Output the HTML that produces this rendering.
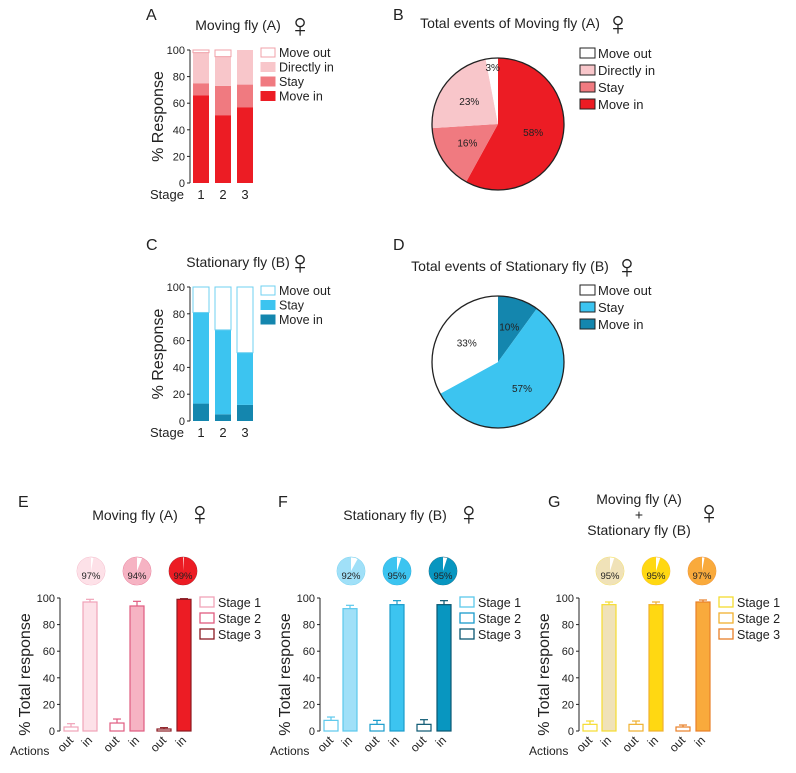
<!DOCTYPE html>
<html><head><meta charset="utf-8"><style>
body{margin:0;background:#fff;width:796px;height:768px;overflow:hidden}
svg text{font-family:"Liberation Sans",sans-serif;fill:#222}
</style></head><body>
<svg id="fig" width="796" height="768" viewBox="0 0 796 768" xmlns="http://www.w3.org/2000/svg"></svg>
<script>
// Panel A data
const stagesAB=["1","2","3"];
const aMoveIn=[66,51,57];
const aStay=[9,22,17];
const aDirectIn=[23,22,26];
const aMoveOut=[2,5,0];
// Panel C data
const cMoveIn=[13,5,12];
const cStay=[68,63,39];
const cMoveOut=[19,32,49];
// Panel B / D pies
const bLabels=["Move in","Stay","Directly in","Move out"];
const bValues=[58,16,23,3];
const dLabels=["Move in","Stay","Move out"];
const dValues=[10,57,33];
// Panels E/F/G
const yTicks=[0,20,40,60,80,100];
const eOut=[3,6,1.5], eOutErr=[2.5,3,1];
const eIn=[97,94,99], eInErr=[2,3.5,0.5];
const fOut=[8,5,5], fOutErr=[2.5,3,3.5];
const fIn=[92,95,95], fInErr=[2.5,3,3];
const gOut=[5,5,3], gOutErr=[2.5,2.5,1.5];
const gIn=[95,95,97], gInErr=[2,2,1.5];
const ePie=[97,94,99], fPie=[92,95,95], gPie=[95,95,97];

const NS="http://www.w3.org/2000/svg";
const svg=document.getElementById('fig');
function mk(tag,attrs,parent){const e=document.createElementNS(NS,tag);for(const k in attrs)e.setAttribute(k,attrs[k]);(parent||svg).appendChild(e);return e;}
function txt(x,y,s,size,anchor,parent,extra){const t=mk('text',Object.assign({x:x,y:y,'font-size':size,'text-anchor':anchor||'start'},extra||{}),parent);t.textContent=s;return t;}
function fem(x,y,parent){const t=txt(x,y+5,'\u2640',34,'middle',parent,{'font-family':'DejaVu Sans'});return t;}
function grp(name){const g=mk('g',{});return g;}

// panel letters
[["A",146,20],["B",393,20],["C",146,250],["D",393,250],["E",18,507],["F",278,507],["G",548,507]].forEach(p=>{
 const t=txt(p[1],p[2],p[0],16,'start');
 
 
});

function stackPanel(name,title,y0,y100,series,colors,strokes,legendNames,legendY){
 const g=grp(name);
 const ax=190;
 const ys=v=>y0-(y0-y100)*v/100;
 const t=txt(238,y100-20,title,14,'middle',g);
 
 
 fem(300,y100-18,g);
 mk('line',{x1:ax,y1:y100,x2:ax,y2:y0,stroke:'#222','stroke-width':1},g);
 yTicks.forEach(v=>{mk('line',{x1:ax-3,y1:ys(v),x2:ax,y2:ys(v),stroke:'#222'},g);txt(ax-5,ys(v)+4,String(v),11,'end',g);});
 const yt=txt(0,0,'% Response',16,'middle',g,{transform:`translate(163,${(y0+y100)/2}) rotate(-90)`});
 
 
 const bx=[193,215,237];
 stagesAB.forEach((s,i)=>{
  let acc=0;
  series.forEach((arr,k)=>{
   const v=arr[i];
   const r=mk('rect',{x:bx[i],y:ys(acc+v),width:16,height:ys(acc)-ys(acc+v),fill:colors[k],stroke:strokes[k],'stroke-width':k===series.length-1?1:0},g);
   
   
   acc+=v;
  });
  txt(bx[i]+8,y0+16,s,13,'middle',g);
 });
 txt(184,y0+16,'Stage',13,'end',g);
 legendNames.forEach((n,k)=>{
  const ci=series.length-1-k;
  const ly=legendY+k*14.5;
  const r=mk('rect',{x:261,y:ly-9,width:14,height:9,fill:colors[ci],stroke:strokes[ci]==='none'?colors[ci]:strokes[ci]},g);
  
  
  txt(279,ly,n,12.5,'start',g);
 });
}
stackPanel('stacked-bar-moving-fly','Moving fly (A)',183,50,[aMoveIn,aStay,aDirectIn,aMoveOut],['#ec1c24','#f07a80','#f8c6ca','#ffffff'],['none','none','none','#f0a0a8'],['Move out','Directly in','Stay','Move in'],57);
stackPanel('stacked-bar-stationary-fly','Stationary fly (B)',421,287,[cMoveIn,cStay,cMoveOut],['#1486ae','#3cc4f0','#ffffff'],['none','none','#6fd0f0'],['Move out','Stay','Move in'],295);

function arcPath(cx,cy,r,a0,a1){
 const p=a=>[cx+r*Math.sin(a*2*Math.PI),cy-r*Math.cos(a*2*Math.PI)];
 const s=p(a0),e=p(a1);const large=(a1-a0)>0.5?1:0;
 return `M${cx},${cy} L${s[0]},${s[1]} A${r},${r} 0 ${large} 1 ${e[0]},${e[1]} Z`;
}
function bigPie(name,title,cx,cy,r,titleY,labels,values,colors,legendY,legendOrder){
 const g=grp(name);
 const t=txt(cx+12,titleY,title,14,'middle',g);
 
 
 fem(cx+t.getComputedTextLength()/2+30,titleY+2,g);
 let acc=0;const tot=values.reduce((a,b)=>a+b,0);
 values.forEach((v,i)=>{
  const a0=acc/tot,a1=(acc+v)/tot;
  const p=mk('path',{d:arcPath(cx,cy,r,a0,a1),fill:colors[i],stroke:'none'},g);
  
  
  const m=(a0+a1)/2*2*Math.PI;const lr=v<6?r*0.85:r*0.55;
  txt(cx+lr*Math.sin(m),cy-lr*Math.cos(m)+3,v+'%',10,'middle',g,{fill:'#333'});
  acc+=v;
 });
 mk('circle',{cx:cx,cy:cy,r:r,fill:'none',stroke:'#222','stroke-width':1.3},g);
 legendOrder.forEach((i,k)=>{
  const ly=legendY+k*17;
  const s=mk('rect',{x:580,y:ly-9,width:15,height:10,fill:colors[i],stroke:'#222'},g);
  
  
  txt(598,ly+1,labels[i],13,'start',g);
 });
}
bigPie('pie-moving-fly','Total events of Moving fly (A)',498,124,66,28,bLabels,bValues,['#ec1c24','#f07a80','#f8c6ca','#ffffff'],57,[3,2,1,0]);
bigPie('pie-stationary-fly','Total events of Stationary fly (B)',498,362,66,271,dLabels,dValues,['#1486ae','#3cc4f0','#ffffff'],294,[2,1,0]);

function totalPanel(name,ax,titleLines,outV,outE,inV,inE,pie,fills,strokes){
 const g=grp(name);
 const y0=731,y100=598;
 const ys=v=>y0-(y0-y100)*v/100;
 if(titleLines.length===1){const t=txt(ax+75,520,titleLines[0],14,'middle',g);fem(ax+75+t.getComputedTextLength()/2+22,520,g);}
 else{titleLines.forEach((l,i)=>txt(ax+60,504+i*15.5,l,14,'middle',g));fem(ax+130,519,g);}
 mk('line',{x1:ax,y1:y100,x2:ax,y2:y0,stroke:'#222'},g);
 yTicks.forEach(v=>{mk('line',{x1:ax-3,y1:ys(v),x2:ax,y2:ys(v),stroke:'#222'},g);txt(ax-5,ys(v)+4,String(v),11,'end',g);});
 const yt=txt(0,0,'% Total response',16,'middle',g,{transform:`translate(${ax-30},${(y0+y100)/2+10}) rotate(-90)`});
 
 
 txt(ax-50,755,'Actions',12,'start',g);
 const outX=[4,50,97],inX=[23,70,117],pieX=[31,77,123];
 for(let i=0;i<3;i++){
  [[outX[i],outV[i],outE[i],'#fff','out'],[inX[i],inV[i],inE[i],fills[i],'in']].forEach(b=>{
   const x=ax+b[0];
   mk('line',{x1:x+7,y1:ys(b[1]),x2:x+7,y2:ys(b[1]+b[2]),stroke:strokes[i],'stroke-width':1.2},g);
   mk('line',{x1:x+3,y1:ys(b[1]+b[2]),x2:x+11,y2:ys(b[1]+b[2]),stroke:strokes[i],'stroke-width':1.2},g);
   const r=mk('rect',{x:x,y:ys(b[1]),width:14,height:y0-ys(b[1]),fill:b[3],stroke:strokes[i],'stroke-width':1.2},g);
   
   
   txt(x+10,741,b[4],12,'end',g,{transform:`rotate(-45 ${x+10} 741)`});
  });
  const cx=ax+pieX[i],cy=571,r=14;
  mk('circle',{cx:cx,cy:cy,r:r,fill:'#fff',stroke:strokes[i],'stroke-width':0.6},g);
  const p=mk('path',{d:arcPath(cx,cy,r,1-pie[i]/100,1),fill:fills[i]},g);
  
  
  txt(cx,cy+8,pie[i]+'%',9.5,'middle',g,{fill:'#333'});
 }
 ['Stage 1','Stage 2','Stage 3'].forEach((n,k)=>{
  const ly=606+k*16;
  const s=mk('rect',{x:ax+140,y:ly-9,width:14,height:10,fill:'#fff',stroke:strokes[k],'stroke-width':1.3},g);
  
  
  txt(ax+158,ly+1,n,12.5,'start',g);
 });
}
totalPanel('bar-moving-fly-total',60,['Moving fly (A)'],eOut,eOutErr,eIn,eInErr,ePie,['#fde1e8','#f6b3c3','#ec1c24'],['#f0a3b8','#e05c80','#8b1a22']);
totalPanel('bar-stationary-fly-total',320,['Stationary fly (B)'],fOut,fOutErr,fIn,fInErr,fPie,['#a0e0f8','#3cc4f0','#0896c0'],['#5cc8ec','#1a9ccc','#0a5872']);
totalPanel('bar-combined-total',579,['Moving fly (A)','+','Stationary fly (B)'],gOut,gOutErr,gIn,gInErr,gPie,['#f0e2b8','#ffd812','#f9aa3c'],['#f5dc30','#f0b030','#e88028']);
</script>
</body></html>
